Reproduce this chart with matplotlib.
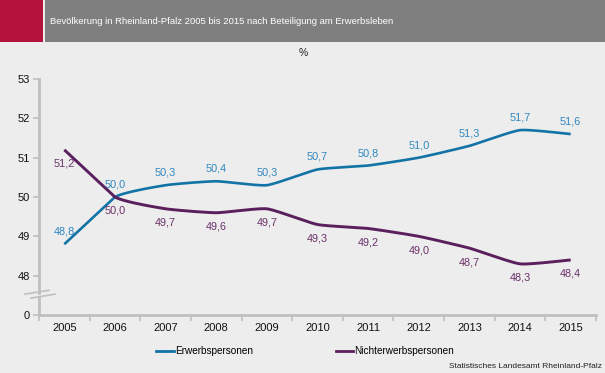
import numpy as np
import matplotlib.pyplot as plt
from matplotlib.patches import Rectangle
from matplotlib.lines import Line2D

plt.rcParams['font.family'] = ['Liberation Sans', 'DejaVu Sans']

# ------------------------------
# Datos
# ------------------------------
jahre = ['2005', '2006', '2007', '2008', '2009', '2010',
         '2011', '2012', '2013', '2014', '2015']
erwerbs = [48.8, 50.0, 50.3, 50.4, 50.3, 50.7, 50.8, 51.0, 51.3, 51.7, 51.6]
nichterwerbs = [51.2, 50.0, 49.7, 49.6, 49.7, 49.3, 49.2, 49.0, 48.7, 48.3, 48.4]
y_ticks = [47, 48, 49, 50, 51, 52, 53]
y_ticklabels = ['0', '48', '49', '50', '51', '52', '53']

titel = "Bevölkerung in Rheinland-Pfalz 2005 bis 2015 nach Beteiligung am Erwerbsleben"
quelle = "Statistisches Landesamt Rheinland-Pfalz"

c_bg = '#EDEDED'
c_blau = '#1273A6'
c_lila = '#5A1F5C'
c_blau_txt = '#2F86BE'
c_lila_txt = '#6A3068'
c_achse = '#BFBFBF'


def glatt(y, n=30, k=12):
    # curva suavizada (Bezier, tensión reducida); primer tramo recto
    x = np.arange(len(y), dtype=float)
    y = np.asarray(y, dtype=float)
    xs, ys = [], []
    for i in range(len(y) - 1):
        i0 = max(i - 1, 0)
        i3 = min(i + 2, len(y) - 1)
        p0 = np.array([x[i], y[i]])
        p3 = np.array([x[i + 1], y[i + 1]])
        if i == 0:
            c1 = p0 + (p3 - p0) / 3
            c2 = p3 - (p3 - p0) / 3
        else:
            c1 = p0 + (np.array([x[i + 1], y[i + 1]]) - np.array([x[i0], y[i0]])) / k
            c2 = p3 - (np.array([x[i3], y[i3]]) - np.array([x[i], y[i]])) / k
        t = np.linspace(0, 1, n)[:, None]
        pts = ((1 - t) ** 3) * p0 + 3 * ((1 - t) ** 2) * t * c1 + 3 * (1 - t) * t ** 2 * c2 + t ** 3 * p3
        xs.extend(pts[:, 0])
        ys.extend(pts[:, 1])
    return xs, ys


fig = plt.figure(figsize=(6.05, 3.73), dpi=100)
fig.patch.set_facecolor(c_bg)

# Cabecera
fig.add_artist(Rectangle((0, 1 - 42 / 373), 43 / 605, 42 / 373,
                         transform=fig.transFigure, color='#B5123E', lw=0))
fig.add_artist(Rectangle((45 / 605, 1 - 42 / 373), 1 - 45 / 605, 42 / 373,
                         transform=fig.transFigure, color='#7F7F7F', lw=0))
fig.text(50 / 605, 1 - 22 / 373, titel, color='white', fontsize=6.8,
         ha='left', va='center')
fig.text(303 / 605, 1 - 53 / 373, '%', color='#222222', fontsize=7.5,
         ha='center', va='center')

ax = fig.add_axes([39 / 605, 58 / 373, 557 / 605, 236 / 373])
ax.set_facecolor(c_bg)

x = np.arange(len(jahre))
xb, yb = glatt(erwerbs)
xl, yl = glatt(nichterwerbs)
ax.plot(xb, yb, color=c_blau, lw=1.9, solid_capstyle='butt')
ax.plot(xl, yl, color=c_lila, lw=2.1, solid_capstyle='butt')

for i in range(len(jahre)):
    ax.annotate(f"{erwerbs[i]:.1f}".replace('.', ','), (x[i], erwerbs[i]),
                xytext=(0, 9), textcoords='offset points', ha='center',
                va='center', fontsize=7.8, color=c_blau_txt)
    ax.annotate(f"{nichterwerbs[i]:.1f}".replace('.', ','), (x[i], nichterwerbs[i]),
                xytext=(0, -10), textcoords='offset points', ha='center',
                va='center', fontsize=7.8, color=c_lila_txt)

ax.set_xlim(-0.5, len(jahre) - 0.5)
ax.set_ylim(47, 53)
ax.set_yticks(y_ticks)
ax.set_yticklabels(y_ticklabels)
ax.set_xticks(x)
ax.set_xticklabels(jahre)
ax.set_xticks(np.arange(-0.5, len(jahre)), minor=True)
ax.tick_params(axis='x', which='major', length=0, pad=6, labelsize=8, labelcolor='#111111')
ax.tick_params(axis='x', which='minor', length=4, width=1.2, color=c_achse, direction='out')
ax.tick_params(axis='y', length=4, width=1.2, color=c_achse, pad=2.5, labelsize=8, labelcolor='#111111')

for s in ['top', 'right', 'left']:
    ax.spines[s].set_visible(False)
ax.spines['bottom'].set_color(c_achse)
ax.spines['bottom'].set_linewidth(2)

# Eje Y con corte
tr = ax.get_yaxis_transform()
ax.plot([0, 0], [47, 47.47], transform=tr, color=c_achse, lw=2, clip_on=False)
ax.plot([0, 0], [47.57, 53], transform=tr, color=c_achse, lw=2, clip_on=False)
dx = 1 / 557
ax.plot([-8 * dx, 16 * dx], [47.47 - 0.04, 47.47 + 0.06], transform=tr,
        color=c_achse, lw=1.2, clip_on=False)
ax.plot([-14 * dx, 10 * dx], [47.57 - 0.04, 47.57 + 0.06], transform=tr,
        color=c_achse, lw=1.2, clip_on=False)

# Leyenda
handles = [Line2D([], [], color=c_blau, lw=2), Line2D([], [], color=c_lila, lw=2)]
fig.legend(handles, ['Erwerbspersonen', 'Nichterwerbspersonen'], loc='center',
           bbox_to_anchor=(305 / 605, 1 - 351 / 373), ncol=2, frameon=False,
           fontsize=7.2, handlelength=1.75, handletextpad=0.1, columnspacing=8.3)

fig.text(602 / 605, 1 - 367 / 373, quelle, fontsize=6.0, color='#222222',
         ha='right', va='center')

plt.savefig('out.png', dpi=100, facecolor=fig.get_facecolor())
